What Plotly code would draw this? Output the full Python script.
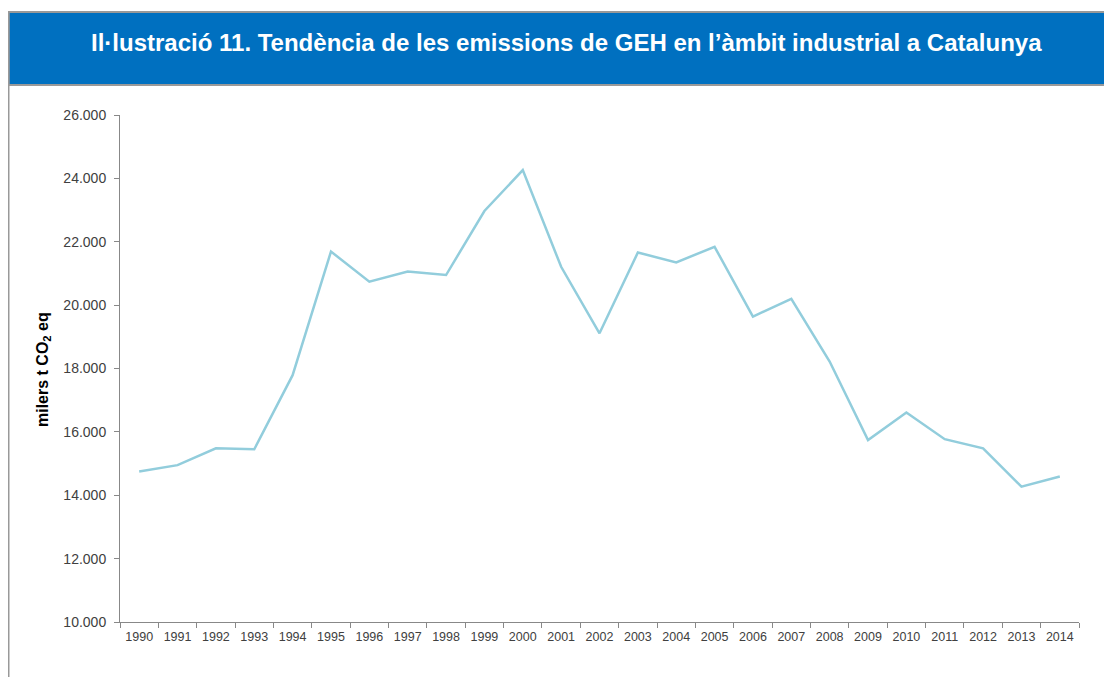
import plotly.graph_objects as go

years = [str(y) for y in range(1990, 2015)]
emissions = [14750, 14950, 15480, 15450, 17790, 21690, 20740, 21060, 20950, 22970,
             24260, 21210, 19110, 21660, 21350, 21840, 19640, 20200, 18220, 15740,
             16610, 15770, 15480, 14270, 14590]
y_ticks = [10000, 12000, 14000, 16000, 18000, 20000, 22000, 24000, 26000]

title_text = "Il·lustració 11. Tendència de les emissions de GEH en l’àmbit industrial a Catalunya"
y_title = "<b>milers t CO<sub>2</sub> eq</b>"

# page body has an 8px margin, so the figure is drawn 8px right/down of the window origin
OFF = 8
W, H = 1112 - OFF, 677 - OFF
L, R, T, B = 120 - OFF, 33, 115 - OFF, 55
pw, ph = W - L - R, H - T - B

def px(x):
    return (x - OFF - L) / pw

def py(y):
    return (H - B - (y - OFF)) / ph

fig = go.Figure()
fig.add_trace(go.Scatter(x=years, y=emissions, mode="lines",
                         line=dict(color="#92CDDC", width=2.5),
                         hoverinfo="x+y", showlegend=False))

shapes = [
    # blue banner
    dict(type="rect", xref="paper", yref="paper", x0=px(8.5), x1=px(1120), y0=py(85), y1=py(12),
         fillcolor="#0070C0", line=dict(color="#999999", width=2), layer="below"),
    # left border
    dict(type="line", xref="paper", yref="paper", x0=px(8.5), x1=px(8.5), y0=py(12), y1=py(690),
         line=dict(color="#999999", width=2)),
]

fig.update_layout(
    width=W, height=H,
    margin=dict(l=L, r=R, t=T, b=B, pad=0),
    paper_bgcolor="white", plot_bgcolor="white",
    separators=",.",
    font=dict(family="Liberation Sans, Arial, sans-serif", color="#404040"),
    shapes=shapes,
    annotations=[
        dict(text="<b>" + title_text + "</b>", xref="paper", yref="paper",
             x=px(566), y=py(43), xanchor="center", yanchor="middle", showarrow=False,
             font=dict(family="Liberation Sans, Arial, sans-serif", size=24, color="white")),
        dict(text=y_title, xref="paper", yref="paper", textangle=-90,
             x=px(43), y=py(370), xanchor="center", yanchor="middle", showarrow=False,
             font=dict(family="Liberation Sans, Arial, sans-serif", size=16, color="#000000")),
    ],
    xaxis=dict(type="category", range=[-0.5, 24.5], showgrid=False, zeroline=False,
               showline=True, linecolor="#888888", linewidth=1,
               ticks="outside", ticklen=5, tickcolor="#888888", tickson="boundaries",
               ticklabelstandoff=3,
               tickfont=dict(size=12.5, color="#404040")),
    yaxis=dict(range=[10000, 26000], tickvals=y_ticks, tickformat=",.0f",
               showgrid=False, zeroline=False,
               showline=True, linecolor="#888888", linewidth=1,
               ticks="outside", ticklen=5, tickcolor="#888888",
               ticklabelstandoff=5,
               tickfont=dict(size=14, color="#404040")),
)

fig.write_html("out.html")
